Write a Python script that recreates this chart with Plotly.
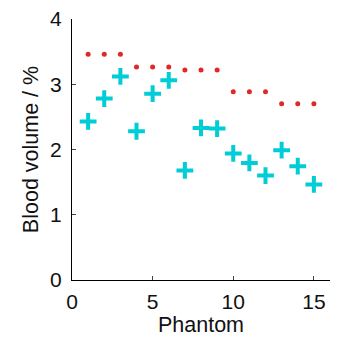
import plotly.graph_objects as go

phantom = list(range(1, 16))
reference_bv = [3.46, 3.46, 3.46, 3.265, 3.265, 3.265, 3.22, 3.22, 3.22,
                2.885, 2.885, 2.885, 2.70, 2.70, 2.70]
measured_bv = [2.43, 2.78, 3.12, 2.28, 2.855, 3.06, 1.68, 2.33, 2.32,
               1.94, 1.795, 1.60, 1.99, 1.745, 1.465]
x_ticks = [0, 5, 10, 15]
y_ticks = [0, 1, 2, 3, 4]

fig = go.Figure()
fig.add_trace(go.Scatter(
    x=phantom, y=reference_bv, mode="markers",
    marker=dict(symbol="circle", size=5, color="#e0282a", line=dict(width=0)),
    showlegend=False,
))
fig.add_trace(go.Scatter(
    x=phantom, y=measured_bv, mode="markers",
    marker=dict(symbol="cross-thin", size=12, color="#00cdd5",
                line=dict(width=4, color="#00cdd5")),
    showlegend=False,
))

tick_font = dict(family="Arial, 'Liberation Sans', sans-serif", size=21, color="#111111")
title_font = dict(family="Arial, 'Liberation Sans', sans-serif", size=21.5, color="#111111")
fig.update_layout(
    width=337, height=340,
    margin=dict(l=72, r=7, t=17, b=60),
    paper_bgcolor="white", plot_bgcolor="white",
    font=tick_font,
)
fig.update_xaxes(
    range=[0, 16], tickvals=x_ticks, ticks="inside", ticklen=4,
    showline=True, linecolor="black", linewidth=1, showgrid=False, zeroline=False,
    ticklabelstandoff=3, tickfont=tick_font,
    title=dict(text="Phantom", standoff=0, font=title_font),
)
fig.update_yaxes(
    range=[0, 4], tickvals=y_ticks, ticks="inside", ticklen=4,
    showline=True, linecolor="black", linewidth=1, showgrid=False, zeroline=False,
    ticklabelstandoff=5, tickfont=tick_font,
    title=dict(text="Blood volume / %", standoff=5, font=title_font),
)
fig.write_html("out.html")
